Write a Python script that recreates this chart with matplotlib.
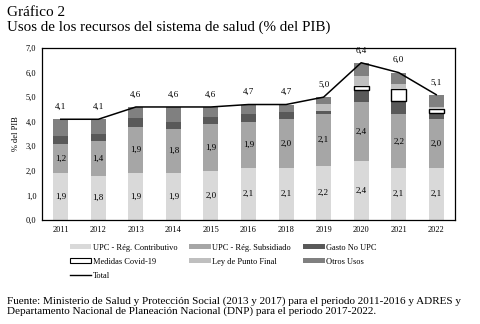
import numpy as np
import matplotlib
matplotlib.use("Agg")
import matplotlib.pyplot as plt
from matplotlib.patches import Patch
from matplotlib.lines import Line2D

plt.rcParams['font.family'] = ['Liberation Serif', 'DejaVu Serif']

years = ['2011', '2012', '2013', '2014', '2015', '2016', '2018', '2019', '2020', '2021', '2022']
contrib = [1.9, 1.8, 1.9, 1.9, 2.0, 2.1, 2.1, 2.2, 2.4, 2.1, 2.1]
subsid = [1.2, 1.4, 1.9, 1.8, 1.9, 1.9, 2.0, 2.1, 2.4, 2.2, 2.0]
gasto_no_upc = [0.3, 0.3, 0.35, 0.3, 0.3, 0.3, 0.3, 0.15, 0.5, 0.55, 0.25]
covid = [0, 0, 0, 0, 0, 0, 0, 0, 0.17, 0.5, 0.15]
punto_final = [0, 0, 0, 0, 0, 0, 0, 0.27, 0.41, 0.2, 0.08]
otros = [0.7, 0.6, 0.45, 0.6, 0.4, 0.4, 0.3, 0.28, 0.52, 0.45, 0.52]
total = [4.1, 4.1, 4.6, 4.6, 4.6, 4.7, 4.7, 5.0, 6.4, 6.0, 5.1]

c_contrib = '#d9d9d9'
c_subsid = '#a6a6a6'
c_gasto = '#595959'
c_punto = '#bfbfbf'
c_otros = '#808080'


def fmt(v):
    return f"{v:.1f}".replace('.', ',')


fig = plt.figure(figsize=(4.8, 3.24), dpi=100)
ax = fig.add_axes([42 / 480, 1 - 220 / 324, 413 / 480, 172 / 324])

x = np.arange(len(years))
w = 0.4
bottom = np.zeros(len(years))

series = [
    (contrib, c_contrib, 'none', 0),
    (subsid, c_subsid, 'none', 0),
    (gasto_no_upc, c_gasto, 'none', 0),
    (covid, 'white', 'black', 1.0),
    (punto_final, c_punto, 'none', 0),
    (otros, c_otros, 'none', 0),
]
for i, (vals, col, ec, lw) in enumerate(series):
    vals = np.array(vals)
    if ec == 'none':
        ax.bar(x, vals, w, bottom=bottom, color=col, linewidth=0, zorder=2)
    else:
        mask = vals > 0
        ax.bar(x[mask], vals[mask], w, bottom=bottom[mask], color=col,
               edgecolor=ec, linewidth=lw, zorder=2)
    if i < 2:
        for xi, b, v in zip(x, bottom, vals):
            ax.text(xi, b + v / 2, fmt(v), ha='center', va='center', fontsize=6.5, zorder=4)
    bottom = bottom + vals

ax.plot(x, total, color='black', linewidth=1.1, zorder=3)
for xi, t in zip(x, total):
    ax.annotate(fmt(t), (xi, t), xytext=(0, 6), textcoords='offset points',
                ha='center', va='bottom', fontsize=6.5)

ax.set_xlim(-0.5, len(years) - 0.5)
ax.set_ylim(0, 7)
ax.set_yticks(np.arange(0, 7.1, 1.0))
ax.set_yticklabels([fmt(v) for v in np.arange(0, 7.1, 1.0)], fontsize=6)
ax.set_xticks(x)
ax.set_xticklabels(years, fontsize=6)
ax.tick_params(length=0, pad=4)
ax.set_ylabel('% del PIB', fontsize=6, labelpad=4)
for s in ax.spines.values():
    s.set_linewidth(0.9)
    s.set_color('black')

handles = [
    Patch(facecolor=c_contrib, label='UPC - Rég. Contributivo'),
    Patch(facecolor='white', edgecolor='black', linewidth=0.8, label='Medidas Covid-19'),
    Line2D([], [], color='black', linewidth=1, label='Total'),
    Patch(facecolor=c_subsid, label='UPC - Rég. Subsidiado'),
    Patch(facecolor=c_punto, label='Ley de Punto Final'),
    Patch(facecolor=c_gasto, label='Gasto No UPC'),
    Patch(facecolor=c_otros, label='Otros Usos'),
]
fig.legend(handles=handles, ncol=3, loc='upper left', bbox_to_anchor=(62 / 480, 1 - 236 / 324),
           frameon=False, fontsize=6, handlelength=2.6, handleheight=0.5,
           handletextpad=0.2, columnspacing=1.4, labelspacing=0.75)

fig.text(7 / 480, 1 - 13 / 324, 'Gráfico 2', fontsize=11, va='center', ha='left')
fig.text(7 / 480, 1 - 27 / 324, 'Usos de los recursos del sistema de salud (% del PIB)',
         fontsize=10.8, va='center', ha='left')
fig.text(7 / 480, 1 - 301 / 324,
         'Fuente: Ministerio de Salud y Protección Social (2013 y 2017) para el periodo 2011-2016 y ADRES y',
         fontsize=8, va='center', ha='left')
fig.text(7 / 480, 1 - 311 / 324,
         'Departamento Nacional de Planeación Nacional (DNP) para el periodo 2017-2022.',
         fontsize=8, va='center', ha='left')

fig.savefig('out.png', dpi=100)
